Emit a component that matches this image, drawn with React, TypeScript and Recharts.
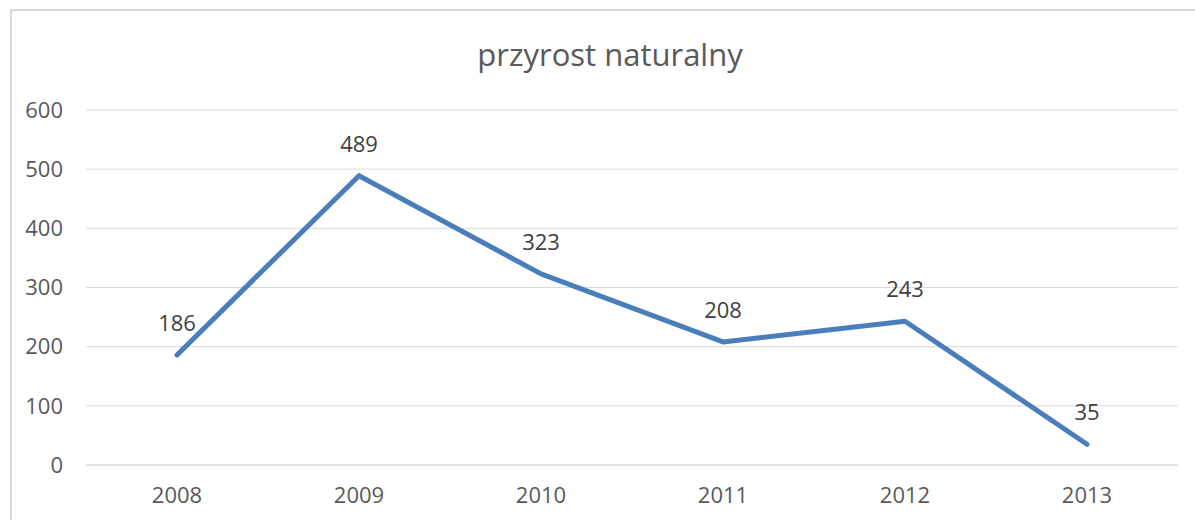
import { LineChart, Line, XAxis, YAxis, CartesianGrid, LabelList } from 'recharts';

const years = ['2008', '2009', '2010', '2011', '2012', '2013'];
const growth = [186, 489, 323, 208, 243, 35];
const yTicks = [0, 100, 200, 300, 400, 500, 600];

const data = years.map((year, i) => ({ year, value: growth[i] }));

const FONT = '"Open Sans", sans-serif';
const GRAY = '#595959';

export default function App() {
  return (
    <div
      style={{
        position: 'absolute',
        left: 0,
        top: 0,
        width: 1195,
        height: 520,
        overflow: 'hidden',
        background: '#fff',
        fontFamily: FONT,
      }}
    >
      <div
        style={{
          position: 'absolute',
          left: 10,
          top: 9,
          width: 1300,
          height: 700,
          border: '2px solid #d9d9d9',
        }}
      />
      <div
        style={{
          position: 'absolute',
          left: 0,
          top: 33,
          width: 1220,
          textAlign: 'center',
          fontSize: 31,
          color: GRAY,
        }}
      >
        przyrost naturalny
      </div>
      <div style={{ position: 'absolute', left: 0, top: 0 }}>
        <LineChart
          width={1195}
          height={520}
          data={data}
          margin={{ top: 110, right: 17, bottom: 0, left: 0 }}
        >
          <CartesianGrid vertical={false} stroke="#d9d9d9" strokeWidth={1} />
          <XAxis
            dataKey="year"
            height={55}
            padding={{ left: 91, right: 91 }}
            axisLine={{ stroke: '#d9d9d9' }}
            tickLine={false}
            tickSize={0}
            tickMargin={22}
            tick={{ fill: GRAY, fontSize: 22, fontFamily: FONT }}
          />
          <YAxis
            width={86}
            domain={[0, 600]}
            ticks={yTicks}
            axisLine={false}
            tickLine={false}
            tickSize={0}
            tickMargin={23}
            tick={{ fill: GRAY, fontSize: 22, fontFamily: FONT }}
          />
          <Line
            dataKey="value"
            stroke="#4a7ebb"
            strokeWidth={5}
            strokeLinecap="round"
            strokeLinejoin="round"
            dot={false}
            activeDot={false}
            isAnimationActive={false}
          >
            <LabelList
              dataKey="value"
              position="top"
              offset={24}
              fill="#404040"
              fontSize={22}
              fontFamily={FONT}
            />
          </Line>
        </LineChart>
      </div>
    </div>
  );
}
